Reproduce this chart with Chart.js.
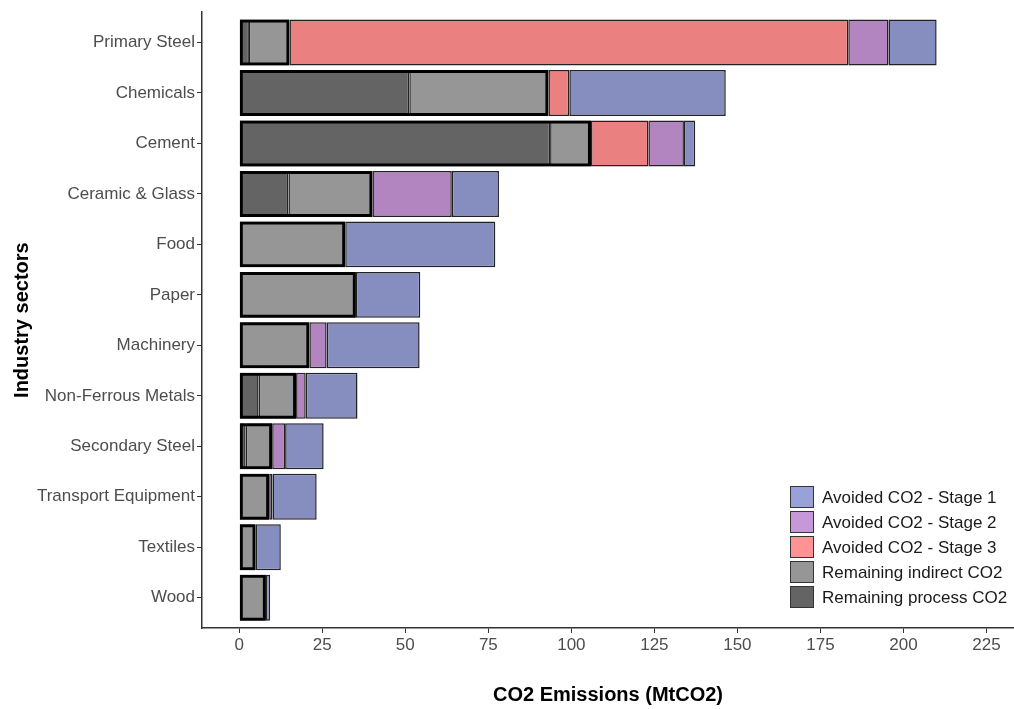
<!DOCTYPE html>
<html>
<head>
<meta charset="utf-8">
<script src="https://cdn.jsdelivr.net/npm/chart.js@4"></script>
<style>
  html, body { margin: 0; padding: 0; background: #ffffff; }
  #wrap { width: 1014px; height: 709px; position: relative; }
</style>
</head>
<body>
<div id="wrap"><canvas id="chart"></canvas></div>
<script>
// Industry sectors, top to bottom
const categories = ['Primary Steel', 'Chemicals', 'Cement', 'Ceramic & Glass', 'Food', 'Paper',
  'Machinery', 'Non-Ferrous Metals', 'Secondary Steel', 'Transport Equipment', 'Textiles', 'Wood'];

// CO2 emissions per sector (MtCO2)
const remainingProcess  = [2.9, 51.2, 93.6, 14.8, 0, 0, 0, 5.8, 1.9, 0, 0, 0];
const remainingIndirect = [12.2, 41.9, 12.3, 25.3, 31.9, 35.1, 21.1, 11.3, 8.0, 9.0, 4.9, 8.0];
const avoidedStage3     = [168.3, 6.3, 17.3, 0, 0, 0, 0, 0, 0, 0, 0, 0];
const avoidedStage2     = [12.1, 0, 10.7, 23.9, 0, 0, 5.2, 2.9, 3.9, 1.0, 0, 0];
const avoidedStage1     = [14.5, 47.1, 3.4, 14.2, 45.2, 19.4, 28.0, 15.6, 11.6, 13.3, 7.6, 1.3];

const xTickValues = [0, 25, 50, 75, 100, 125, 150, 175, 200, 225];

const FONT = "'Liberation Sans', Arial, sans-serif";

const toPoints = arr => arr.map((v, i) => ({ x: v, y: i }));
const remainingTotal = remainingProcess.map((v, i) => v + remainingIndirect[i]);

function segment(label, values, fill, legendFill) {
  return {
    label: label,
    data: toPoints(values),
    backgroundColor: fill,
    legendColor: legendFill,
    borderColor: '#222222',
    borderWidth: 1.5,
    borderSkipped: false,
    stack: 'main',
    order: 1
  };
}

const datasets = [
  // thick outline round the remaining (process + indirect) part of each bar
  {
    label: 'Remaining total',
    data: toPoints(remainingTotal),
    backgroundColor: 'rgba(0,0,0,0)',
    borderColor: '#000000',
    borderWidth: 3,
    borderSkipped: false,
    stack: 'outline',
    grouped: false,
    order: 0,
    skipLegend: true
  },
  segment('Remaining process CO2', remainingProcess, 'rgb(100,100,100)', 'rgb(100,100,100)'),
  segment('Remaining indirect CO2', remainingIndirect, 'rgb(150,150,150)', 'rgb(150,150,150)'),
  segment('Avoided CO2 - Stage 3', avoidedStage3, 'rgb(234,128,128)', 'rgb(255,146,146)'),
  segment('Avoided CO2 - Stage 2', avoidedStage2, 'rgb(178,132,192)', 'rgb(198,152,218)'),
  segment('Avoided CO2 - Stage 1', avoidedStage1, 'rgb(134,142,192)', 'rgb(152,162,216)')
];

// legend drawn inside the plot, bottom right
const insideLegend = {
  id: 'insideLegend',
  afterDraw(chart) {
    const ctx = chart.ctx;
    const items = chart.data.datasets.filter(d => !d.skipLegend).slice().reverse();
    const keyX = 790, keyW = 24, keyH = 22, top = 486, step = 25, textX = 822;
    ctx.save();
    ctx.font = '17px ' + FONT;
    ctx.textBaseline = 'middle';
    ctx.textAlign = 'left';
    items.forEach((d, i) => {
      const y = top + i * step;
      ctx.fillStyle = d.legendColor;
      ctx.fillRect(keyX, y, keyW, keyH);
      ctx.strokeStyle = '#333333';
      ctx.lineWidth = 1;
      ctx.strokeRect(keyX + 0.5, y + 0.5, keyW - 1, keyH - 1);
      ctx.fillStyle = '#1a1a1a';
      ctx.fillText(d.label, textX, y + keyH / 2 + 1);
    });
    ctx.restore();
  }
};

new Chart(document.getElementById('chart'), {
  type: 'bar',
  data: { datasets: datasets },
  plugins: [insideLegend],
  options: {
    indexAxis: 'y',
    responsive: true,
    maintainAspectRatio: false,
    animation: false,
    layout: { padding: { top: 10, right: 0, bottom: 0, left: 0 } },
    datasets: { bar: { categoryPercentage: 1.0, barPercentage: 0.91 } },
    plugins: { legend: { display: false }, tooltip: { enabled: false } },
    scales: {
      x: {
        type: 'linear',
        stacked: true,
        min: -11.23,
        max: 233.3,
        afterBuildTicks: scale => { scale.ticks = xTickValues.map(v => ({ value: v })); },
        afterFit: scale => { scale.height = 81; },
        ticks: { color: '#4d4d4d', font: { family: FONT, size: 17 }, padding: 2, maxRotation: 0 },
        grid: { display: true, drawOnChartArea: false, drawTicks: true, tickLength: 5, color: '#333333', lineWidth: 1 },
        border: { display: true, color: '#333333', width: 1.5 },
        title: {
          display: true,
          text: 'CO2 Emissions (MtCO2)',
          color: '#000000',
          font: { family: FONT, size: 20, weight: 'bold' },
          padding: { top: 0, bottom: 2 }
        }
      },
      y: {
        type: 'linear',
        stacked: true,
        reverse: true,
        offset: false,
        min: -0.6,
        max: 11.6,
        afterBuildTicks: scale => { scale.ticks = categories.map((c, i) => ({ value: i })); },
        afterFit: scale => { scale.width = 202; },
        ticks: {
          color: '#4d4d4d',
          font: { family: FONT, size: 17 },
          padding: 2,
          autoSkip: false,
          callback: v => categories[v]
        },
        grid: { display: true, offset: false, drawOnChartArea: false, drawTicks: true, tickLength: 5, color: '#333333', lineWidth: 1 },
        border: { display: true, color: '#333333', width: 1.5 },
        title: {
          display: true,
          text: 'Industry sectors',
          color: '#000000',
          font: { family: FONT, size: 20, weight: 'bold' },
          padding: { top: 10, bottom: 0 }
        }
      }
    }
  }
});
</script>
</body>
</html>
